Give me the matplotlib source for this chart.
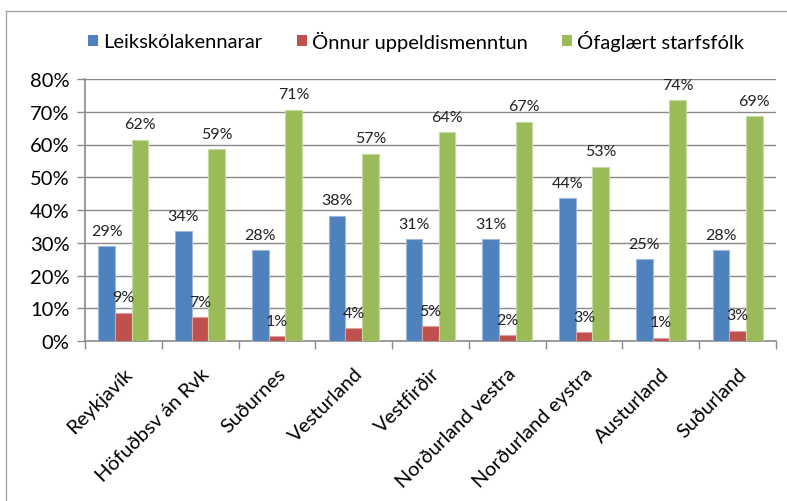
import numpy as np
import matplotlib
matplotlib.use("Agg")
import matplotlib.pyplot as plt
from matplotlib.patches import Patch
from matplotlib.lines import Line2D
from matplotlib.ticker import PercentFormatter, FixedLocator

plt.rcParams['font.family'] = ['Lato', 'DejaVu Sans']

# regions and shares of staff
regions = ['Reykjavík', 'Höfuðbsv án Rvk', 'Suðurnes', 'Vesturland', 'Vestfirðir',
           'Norðurland vestra', 'Norðurland eystra', 'Austurland', 'Suðurland']
series_names = ['Leikskólakennarar', 'Önnur uppeldismenntun', 'Ófaglært starfsfólk']
leikskolakennarar = [28.9, 33.6, 27.8, 38.3, 31.0, 31.0, 43.7, 24.9, 27.7]
onnur = [8.7, 7.2, 1.4, 3.9, 4.6, 1.7, 2.6, 1.0, 3.2]
ofaglaert = [61.5, 58.6, 70.6, 57.2, 63.8, 67.0, 53.2, 73.6, 68.6]

colors = ['#4F81BD', '#C0504D', '#9BBB59']
edges = ['#9DB7DC', '#DDA09E', '#C6D9A2']

fig = plt.figure(figsize=(7.87, 5.02), dpi=100)
ax = fig.add_axes([85 / 787, 160 / 502, 691 / 787, 262 / 502])

x = np.arange(len(regions))
w = 0.217
data = [leikskolakennarar, onnur, ofaglaert]
for i, vals in enumerate(data):
    v = np.array(vals) / 100
    bars = ax.bar(x + (i - 1) * w, v, w, color=colors[i], edgecolor=edges[i],
                  linewidth=0.8, zorder=3, label=series_names[i])
    for b, val in zip(bars, vals):
        ax.annotate(f"{int(val + 0.5)}%", (b.get_x() + b.get_width() / 2, b.get_height()),
                    xytext=(0, 6), textcoords='offset points', ha='center', va='bottom',
                    fontsize=11.5, color='#222222', zorder=4)

ax.set_xlim(-0.5, len(regions) - 0.5)
ax.set_ylim(0, 0.8)
ax.set_yticks(np.arange(0, 0.81, 0.1))
ax.yaxis.set_major_formatter(PercentFormatter(1.0, decimals=0))
ax.grid(axis='y', color='#8a8a8a', linewidth=1, zorder=0)

# category boundaries get tick marks, labels sit at the centres
ax.xaxis.set_major_locator(FixedLocator(np.arange(-0.5, len(regions), 1.0)))
ax.xaxis.set_minor_locator(FixedLocator(x))
ax.set_xticklabels([])
ax.set_xticklabels(regions, minor=True, rotation=45, ha='right', rotation_mode='anchor',
                   fontsize=14.5)
ax.tick_params(axis='x', which='major', length=6, color='#8a8a8a', width=1)
ax.tick_params(axis='x', which='minor', length=0, pad=17)
ax.tick_params(axis='y', length=6, color='#8a8a8a', width=1, labelsize=14.5, pad=5)

for s in ['top', 'right']:
    ax.spines[s].set_visible(False)
for s in ['left', 'bottom']:
    ax.spines[s].set_color('#8a8a8a')
    ax.spines[s].set_linewidth(1.2)

handles = [Patch(facecolor=c, edgecolor='none') for c in colors]
fig.legend(handles, series_names, loc='center left', bbox_to_anchor=(80 / 787, 1 - 41 / 502),
           ncol=3, frameon=False, fontsize=14.5, handlelength=0.5, handleheight=0.5,
           handletextpad=0.25, columnspacing=1.7, borderaxespad=0)

# chart area border (only left and top edges fall inside the picture)
bx, by = 6 / 787, 1 - 12 / 502
fig.add_artist(Line2D([bx, bx], [0, by], transform=fig.transFigure, color='#a6a6a6', lw=1))
fig.add_artist(Line2D([bx, 1], [by, by], transform=fig.transFigure, color='#a6a6a6', lw=1))

fig.savefig('out.png', dpi=100)
